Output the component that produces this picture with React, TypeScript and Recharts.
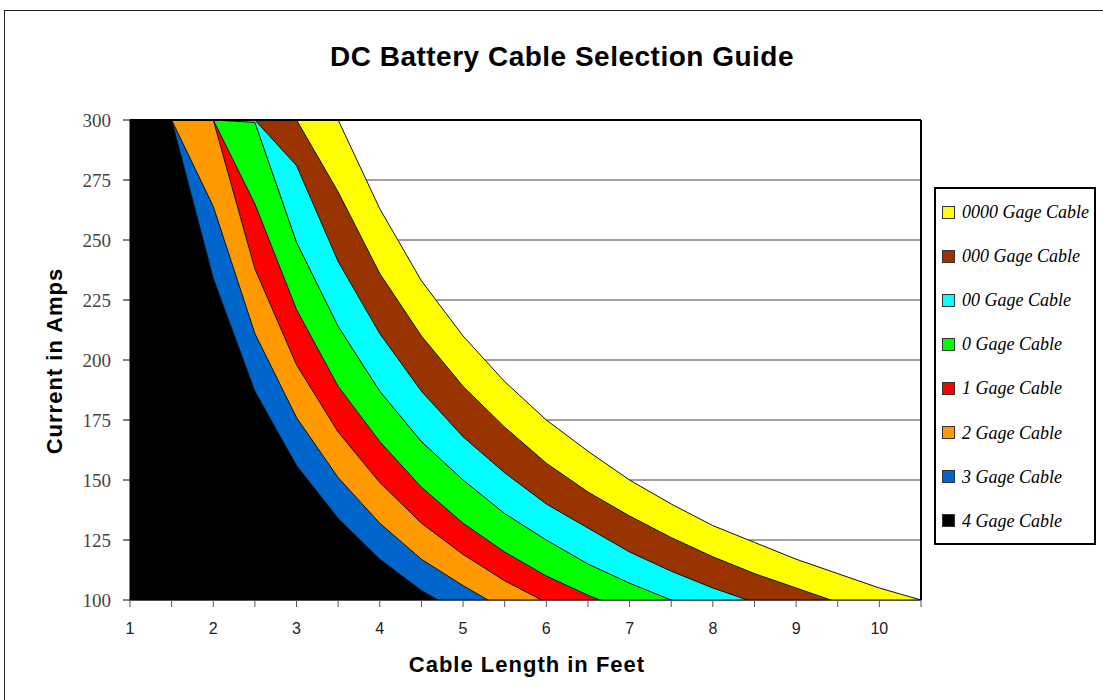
import {
  Area,
  AreaChart,
  CartesianGrid,
  ReferenceLine,
  XAxis,
  YAxis,
} from "recharts";

// cable length in feet (category axis, every half foot)
const lengthFt = [1, 1.5, 2, 2.5, 3, 3.5, 4, 4.5, 5, 5.5, 6, 6.5, 7, 7.5, 8, 8.5, 9, 9.5, 10, 10.5];

// max current (amps) per gauge
const gage0000 = [300, 300, 300, 300, 300, 300, 263, 233, 210, 191, 175, 162, 150, 140, 131, 124, 117, 111, 105, 100];
const gage000 = [300, 300, 300, 300, 300, 270, 236, 210, 189, 172, 157, 145, 135, 126, 118, 111, 105, 99, 94, 90];
const gage00 = [300, 300, 300, 300, 281, 241, 211, 187, 168, 153, 140, 130, 120, 112, 105, 99, 94, 89, 84, 80];
const gage0 = [300, 300, 300, 299, 249, 214, 187, 166, 150, 136, 125, 115, 107, 100, 94, 88, 83, 79, 75, 71];
const gage1 = [300, 300, 300, 265, 221, 189, 166, 147, 132, 120, 110, 102, 95, 88, 83, 78, 74, 70, 66, 63];
const gage2 = [300, 300, 300, 238, 198, 170, 149, 132, 119, 108, 99, 91, 85, 79, 74, 70, 66, 63, 59, 57];
const gage3 = [300, 300, 264, 211, 176, 151, 132, 117, 106, 96, 88, 81, 75, 70, 66, 62, 59, 56, 53, 50];
const gage4 = [300, 300, 234, 187, 156, 134, 117, 104, 94, 85, 78, 72, 67, 62, 59, 55, 52, 49, 47, 45];

const yTicks = [100, 125, 150, 175, 200, 225, 250, 275, 300];

// back to front, same order as the legend
const series = [
  { key: "g0000", name: "0000 Gage Cable", color: "#FFFF00", values: gage0000 },
  { key: "g000", name: "000 Gage Cable", color: "#993300", values: gage000 },
  { key: "g00", name: "00 Gage Cable", color: "#00FFFF", values: gage00 },
  { key: "g0", name: "0 Gage Cable", color: "#00FF00", values: gage0 },
  { key: "g1", name: "1 Gage Cable", color: "#FF0000", values: gage1 },
  { key: "g2", name: "2 Gage Cable", color: "#FF9900", values: gage2 },
  { key: "g3", name: "3 Gage Cable", color: "#0066CC", values: gage3 },
  { key: "g4", name: "4 Gage Cable", color: "#000000", values: gage4 },
];

const data = lengthFt.map((len, i) => {
  const row: Record<string, number> = { length: len };
  series.forEach((s) => {
    row[s.key] = s.values[i];
  });
  return row;
});

const sans = "'Liberation Sans', Arial, sans-serif";
const serif = "'Liberation Serif', 'Times New Roman', serif";

export default function App() {
  return (
    <div
      style={{
        position: "absolute",
        left: 0,
        top: 0,
        width: 1103,
        height: 700,
        background: "#fff",
        overflow: "hidden",
      }}
    >
      <div
        style={{
          position: "absolute",
          left: 4,
          top: 10,
          width: 1099,
          height: 690,
          borderLeft: "1.5px solid #222",
          borderTop: "1.5px solid #222",
        }}
      />
      <div
        style={{
          position: "absolute",
          left: 0,
          top: 41,
          width: 1124,
          textAlign: "center",
          fontFamily: sans,
          fontWeight: 700,
          fontSize: 28,
          letterSpacing: 0.5,
          color: "#000",
        }}
      >
        DC Battery Cable Selection Guide
      </div>

      <div style={{ position: "absolute", left: 0, top: 0 }}>
        <AreaChart
          width={1103}
          height={700}
          data={data}
          margin={{ top: 120, right: 182, bottom: 70, left: 70 }}
        >
          <CartesianGrid horizontal vertical={false} stroke="#444" />
          <XAxis
            dataKey="length"
            type="category"
            height={30}
            interval={0}
            tickSize={7}
            tickMargin={16}
            tickLine={{ stroke: "#555" }}
            axisLine={{ stroke: "#000" }}
            tickFormatter={(v) => (Number.isInteger(Number(v)) ? String(v) : "")}
            tick={{ fill: "#222", fontSize: 16, fontFamily: sans }}
          />
          <YAxis
            width={60}
            domain={[100, 300]}
            ticks={yTicks}
            allowDataOverflow
            tickSize={7}
            tickMargin={12}
            tickLine={{ stroke: "#000" }}
            axisLine={{ stroke: "#000" }}
            tick={{ fill: "#444", fontSize: 19, fontFamily: serif }}
          />
          {series.map((s) => (
            <Area
              key={s.key}
              type="linear"
              dataKey={s.key}
              name={s.name}
              fill={s.color}
              fillOpacity={1}
              stroke="#111"
              strokeWidth={1}
              isAnimationActive={false}
            />
          ))}
          <ReferenceLine y={300} stroke="#000" strokeWidth={2} />
          <ReferenceLine x={10.5} stroke="#000" strokeWidth={2} />
        </AreaChart>
      </div>

      <div
        style={{
          position: "absolute",
          left: 55,
          top: 361,
          transform: "translate(-50%, -50%) rotate(-90deg)",
          whiteSpace: "nowrap",
          fontFamily: sans,
          fontWeight: 700,
          fontSize: 22,
          letterSpacing: 1,
        }}
      >
        Current in Amps
      </div>
      <div
        style={{
          position: "absolute",
          left: 0,
          top: 652,
          width: 1054,
          textAlign: "center",
          fontFamily: sans,
          fontWeight: 700,
          fontSize: 22,
          letterSpacing: 1,
        }}
      >
        Cable Length in Feet
      </div>

      <div
        style={{
          position: "absolute",
          left: 934,
          top: 187,
          width: 158,
          height: 354,
          border: "2px solid #000",
          boxSizing: "content-box",
        }}
      >
        {series.map((s, i) => (
          <div
            key={s.key}
            style={{
              position: "absolute",
              left: 6,
              top: 14 + i * 44.1,
              display: "flex",
              alignItems: "center",
              whiteSpace: "nowrap",
            }}
          >
            <span
              style={{
                display: "inline-block",
                width: 11,
                height: 11,
                background: s.color,
                border: "1px solid #333",
                marginRight: 7,
              }}
            />
            <span
              style={{
                fontFamily: serif,
                fontStyle: "italic",
                fontSize: 18,
                color: "#000",
                lineHeight: "18px",
              }}
            >
              {s.name}
            </span>
          </div>
        ))}
      </div>
    </div>
  );
}
